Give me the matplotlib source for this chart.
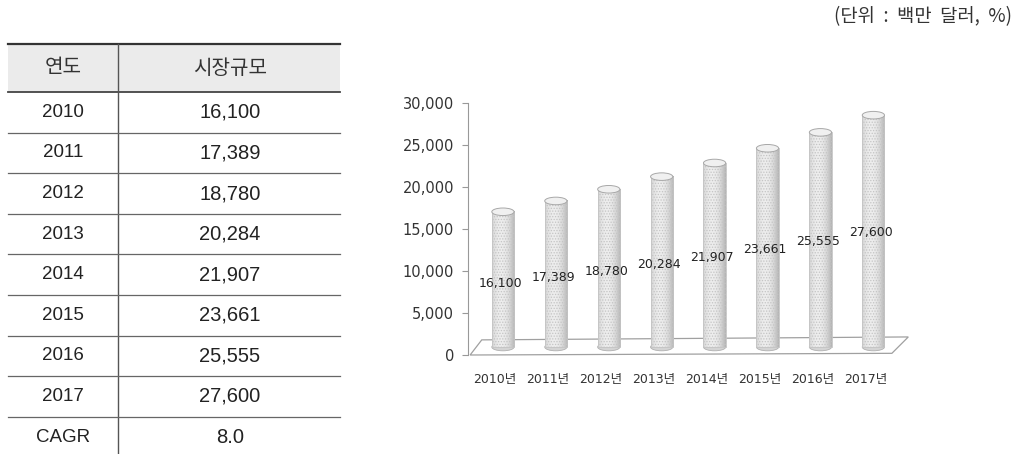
import numpy as np
import matplotlib
matplotlib.use('Agg')
import matplotlib.pyplot as plt
from matplotlib.patches import Ellipse, Polygon, Rectangle

plt.rcParams['font.family'] = ['Noto Sans CJK KR', 'DejaVu Sans']
plt.rcParams['hatch.linewidth'] = 0.6
chart_font = ['DejaVu Sans', 'Noto Sans CJK KR']

# 데이터
years = ['2010', '2011', '2012', '2013', '2014', '2015', '2016', '2017']
market = [16100, 17389, 18780, 20284, 21907, 23661, 25555, 27600]
cagr = '8.0'
x_labels = [y + '년' for y in years]
y_ticks = [0, 5000, 10000, 15000, 20000, 25000, 30000]

fig = plt.figure(figsize=(10.18, 4.54), dpi=100)
fig.patch.set_facecolor('white')

# ---- 왼쪽 표 (픽셀 좌표로 그림) ----
tb = fig.add_axes([0, 0, 1, 1])
tb.set_xlim(0, 1018)
tb.set_ylim(454, 0)
tb.axis('off')

tx0, tx1, tdiv = 8, 340, 118
top, head_bot, row_h = 44, 92, 40.6
tb.add_patch(Rectangle((tx0, top), tx1 - tx0, head_bot - top, facecolor='#ebebeb', edgecolor='none'))
tb.plot([tx0, tx1], [top, top], color='#333333', lw=1.6)
tb.plot([tx0, tx1], [head_bot, head_bot], color='#444444', lw=1.3)
tb.plot([tdiv, tdiv], [top, 454], color='#555555', lw=1.0)
tb.text(63, (top + head_bot) / 2, '연도', ha='center', va='center', fontsize=14.5, color='#333333')
tb.text(230, (top + head_bot) / 2, '시장규모', ha='center', va='center', fontsize=14.5, color='#333333')

rows = list(zip(years, ['{:,}'.format(v) for v in market])) + [('CAGR', cagr)]
for i, (a, b) in enumerate(rows):
    y0 = head_bot + i * row_h
    yc = y0 + row_h / 2
    if i > 0:
        tb.plot([tx0, tx1], [y0, y0], color='#666666', lw=0.9)
    tb.text(63, yc, a, ha='center', va='center', fontsize=13.5, color='#222222',
            family=['Liberation Sans', 'DejaVu Sans'])
    tb.text(230, yc, b, ha='center', va='center', fontsize=14.5, color='#222222',
            family=['Liberation Sans', 'DejaVu Sans'])

tb.text(1012, 17, '(단위  :  백만  달러,  %)', ha='right', va='center', fontsize=13.5, color='#333333')

# ---- 오른쪽 원통형 막대 차트 ----
ax = fig.add_axes([468 / 1018, 99 / 454, (912 - 468) / 1018, 252 / 454])
ax.patch.set_alpha(0)
xlim = (-0.66, 7.73)
ylim = (0, 30000)

xs = np.arange(len(years))
bw = 0.42
base = 950
ell_h = 900

# 바닥 (3D 평면)
floor = Polygon([(-0.62, 0), (-0.40, 1800), (7.66, 2150), (7.35, 200)], closed=True,
                facecolor='none', edgecolor='#a0a0a0', lw=0.9, clip_on=False, zorder=1)
ax.add_patch(floor)

grad = np.linspace(-1, 1, 60)
shade = 0.93 - np.abs(grad + 0.2) ** 2 * 0.16
shade = np.tile(shade, (2, 1))
for x, v in zip(xs, market):
    ax.imshow(shade, extent=[x - bw / 2, x + bw / 2, base, base + v], aspect='auto',
              cmap='gray', vmin=0, vmax=1, zorder=2, interpolation='bilinear')
    ax.add_patch(Ellipse((x, base), bw, ell_h, facecolor='#d4d4d4', edgecolor='#b0b0b0',
                         lw=0.6, zorder=1.9))
ax.bar(xs, market, width=bw, bottom=base, facecolor='none', edgecolor='#c4c4c4',
       hatch='......', lw=0.6, zorder=3)
for x, v in zip(xs, market):
    ax.add_patch(Ellipse((x, base + v), bw, ell_h, facecolor='#f0f0f0', edgecolor='#a8a8a8',
                         lw=0.7, zorder=4))
    ax.text(x - 0.05, v * 0.53, '{:,}'.format(v), ha='center', va='center', fontsize=9,
            color='#222222', zorder=5, family=chart_font)

ax.set_xlim(*xlim)
ax.set_ylim(*ylim)
ax.set_yticks(y_ticks)
ax.set_yticklabels(['{:,}'.format(t) for t in y_ticks], fontsize=10.5, color='#333333',
                   family=chart_font)
ax.set_xticks(xs - 0.15)
ax.set_xticklabels(x_labels, fontsize=9, color='#333333', family=chart_font)
ax.tick_params(axis='x', length=0, pad=13)
ax.tick_params(axis='y', length=4, color='#999999', pad=6)
for s in ['top', 'right', 'bottom']:
    ax.spines[s].set_visible(False)
ax.spines['left'].set_color('#999999')

plt.savefig('out.png', dpi=100)
